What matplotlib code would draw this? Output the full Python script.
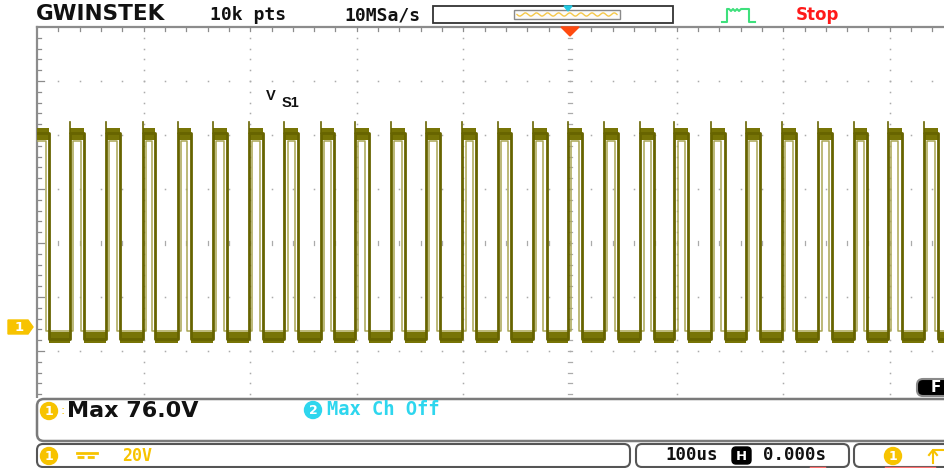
import numpy as np
import matplotlib.pyplot as plt
from matplotlib.patches import FancyBboxPatch, Polygon, Circle, Rectangle

# values (time in us, trigger at 0, 100us/div)
rise_us = [-469, -435, -401, -368, -335, -301, -268, -234, -202, -168, -135, -101, -68,
           -35, -2, 32, 66, 98, 132, 165, 199, 233, 266, 298, 332]
fall_us = [-489, -456, -422, -389, -356, -322, -288, -255, -221, -189, -155, -122, -88,
           -55, -22, 11, 45, 79, 111, 145, 178, 212, 246, 279, 311, 345]
high_v = 72.0          # top plateau
high_band = (69.4, 73.7)
low_v = -4.5
low_band = (-6.0, -2.0)
inner_high_v = 68.8
inner_low_v = -1.6
spike_v = 76.0         # "Max 76.0V"
jitter_us = 3.0
volts_per_div = 20
ground_div = -1.556    # channel 1 marker position, divisions from centre

def to_div(v):
    return np.asarray(v) / volts_per_div + ground_div

W, H = 944, 468
fig = plt.figure(figsize=(W / 100, H / 100), dpi=100)
fig.patch.set_facecolor('white')

# ---- scope screen (data axes) ----
ax = fig.add_axes([37 / W, 1 - 459 / H, (1103 - 37) / W, 432 / H])
ax.set_xlim(-500, 500)
ax.set_ylim(-4, 4)
ax.axis('off')

grid_c = '#ababab'
border_c = '#8c8c8c'
# dotted grid
for gx in [-400, -300, -200, -100, 100, 200, 300, 400]:
    yy = np.arange(-4, 4.01, 0.2)
    ax.plot(np.full_like(yy, gx), yy, ls='none', marker='s', ms=1.1, color=grid_c, mec='none')
for gy in [-3, -2, -1, 1, 2, 3]:
    xx = np.arange(-480, 500, 20)
    ax.plot(xx, np.full_like(xx, gy, dtype=float), ls='none', marker='s', ms=1.1, color=grid_c, mec='none')
# centre axes with minor ticks
for ty in np.arange(-4, 4.01, 0.2):
    ax.plot([-2.3, 2.3], [ty, ty], color=grid_c, lw=0.9)
for tx in np.arange(-480, 500, 20):
    ax.plot([tx, tx], [-0.045, 0.045], color=grid_c, lw=0.9)
# border: top and left with inward ticks
ax.plot([-500, 500], [4, 4], color=border_c, lw=1.6, clip_on=False)
ax.plot([-500, -500], [-4, 4], color=border_c, lw=1.6, clip_on=False)
for tx in np.arange(-480, 500, 20):
    ax.plot([tx, tx], [4, 3.93], color=border_c, lw=0.9)
for ty in np.arange(-3.8, 4, 0.2):
    ln = 6.5 if abs(ty - round(ty)) < 1e-6 else 3.5
    ax.plot([-500, -500 + ln], [ty, ty], color=border_c, lw=0.9)

# waveform
dark = '#676400'
band = '#777406'
light = '#a9a553'
starts = [-500] + rise_us
for s, f in zip(starts, fall_us):
    ax.fill_between([s, f], to_div(high_band[0]), to_div(high_band[1]), color=band, lw=0, zorder=3)
ends = rise_us + [500]
for f, e in zip(fall_us, ends):
    ax.fill_between([f, e], to_div(low_band[0]), to_div(low_band[1]), color=band, lw=0, zorder=3)

xs, ys, xi, yi = [-500], [high_v], [-500], [inner_high_v]
for i, f in enumerate(fall_us):
    xs += [f, f]
    ys += [high_v, low_v]
    xi += [f - jitter_us, f - jitter_us]
    yi += [inner_high_v, inner_low_v]
    if i < len(rise_us):
        r = rise_us[i]
        xs += [r, r]
        ys += [low_v, high_v]
        xi += [r + jitter_us, r + jitter_us]
        yi += [inner_low_v, inner_high_v]
xs.append(500)
ys.append(low_v)
xi.append(500)
yi.append(inner_low_v)
ax.plot(xi, to_div(yi), color=light, lw=1.1, zorder=4)
ax.plot(xs, to_div(ys), color=dark, lw=2.0, zorder=5)
for r in rise_us:
    ax.plot([r, r], to_div([high_v, spike_v]), color=dark, lw=1.2, zorder=5)

# ---- overlay in pixel coordinates for the instrument chrome ----
ov = fig.add_axes([0, 0, 1, 1])
ov.set_xlim(0, W)
ov.set_ylim(H, 0)
ov.axis('off')

mono = 'DejaVu Sans Mono'
yellow = '#f7c300'
cyan = '#2ed6ee'

# header
ov.text(36, 14, 'GWINSTEK', fontsize=15.5, fontweight='heavy', family='DejaVu Sans', va='center', color='#111111')
ov.text(210, 15, '10k pts', fontsize=13, fontweight='bold', family=mono, va='center', color='#111111')
ov.text(344, 15, '10MSa/s', fontsize=13, fontweight='bold', family=mono, va='center', color='#111111')
ov.add_patch(Rectangle((433, 6), 240, 17, fill=False, edgecolor='#333333', lw=1.3))
ov.add_patch(Rectangle((514, 10), 106, 9, facecolor='#fbfbfb', edgecolor='#8a8a8a', lw=1.0))
wx = np.linspace(517, 617, 200)
ov.plot(wx, 14.5 + 1.6 * np.sin((wx - 517) / 100 * 2 * np.pi * 9), color='#f5c84a', lw=1.0)
ov.add_patch(Polygon([(564, 6), (572, 6), (568, 11)], color='#22c8e2'))
ov.plot([722, 727, 727, 729, 731, 733, 735, 737, 739, 741, 743, 749, 749, 755],
        [22, 22, 9, 9, 11, 9, 11, 9, 11, 9, 9, 9, 22, 22], color='#3ee07c', lw=1.5)
ov.text(796, 15.5, 'Stop', fontsize=12, fontweight='bold', family='DejaVu Sans', va='center', color='#ff1a1a')
ov.add_patch(Polygon([(561, 27), (579, 27), (570, 36)], color='#ff4a10', zorder=6))

# waveform label and channel marker
ov.text(266, 96, 'V', fontsize=10.5, fontweight='bold', family='Liberation Sans', va='center', color='#111111')
ov.text(282, 103, 'S1', fontsize=10.5, fontweight='bold', family='Liberation Sans', va='center', color='#111111')
ov.add_patch(Polygon([(8, 320), (28, 320), (33, 327), (28, 334), (8, 334)], color=yellow))
ov.text(19, 327.5, '1', fontsize=9.5, fontweight='bold', color='white', ha='center', va='center')

# F button
ov.add_patch(FancyBboxPatch((917, 379), 40, 17, boxstyle='round,pad=0,rounding_size=6',
                            facecolor='black', edgecolor='#8a8a8a', lw=1.5))
ov.text(931, 388, 'F', fontsize=11, fontweight='bold', color='white', va='center')

# bottom info panel
ov.add_patch(Rectangle((0, 398), W, 70, facecolor='white', edgecolor='none', zorder=2))
ov.add_patch(FancyBboxPatch((37, 399), 940, 42, boxstyle='round,pad=0,rounding_size=7',
                            facecolor='white', edgecolor='#7a7a7a', lw=1.8, zorder=3))
for (x0, x1) in [(37, 630), (636, 849), (854, 1000)]:
    ov.add_patch(FancyBboxPatch((x0, 444), x1 - x0, 23, boxstyle='round,pad=0,rounding_size=6',
                                facecolor='white', edgecolor='#555555', lw=1.5, zorder=3))

def badge(x, y, label, color):
    ov.add_patch(Circle((x, y), 8.5, color=color, zorder=4))
    ov.text(x, y + 0.5, label, fontsize=9, fontweight='bold', color='white', ha='center', va='center', zorder=5)

badge(49, 411, '1', yellow)
ov.text(61, 410, ':', fontsize=9, color=yellow, va='center', zorder=5)
ov.text(67, 411, 'Max 76.0V', fontsize=16, fontweight='bold', family='DejaVu Sans', va='center', color='#111111', zorder=5)
badge(313, 410, '2', cyan)
ov.text(327, 409.5, 'Max Ch Off', fontsize=13.5, fontweight='bold', family=mono, va='center', color=cyan, zorder=5)

badge(49, 456, '1', yellow)
ov.plot([77, 97], [452.5, 452.5], color=yellow, lw=2, zorder=5)
ov.plot([77, 97], [456.5, 456.5], color=yellow, lw=2, ls=(0, (2.5, 1.2)), zorder=5)
ov.text(122, 456, '20V', fontsize=12, fontweight='bold', family=mono, va='center', color=yellow, zorder=5)
ov.text(665, 455.5, '100us', fontsize=12.5, fontweight='bold', family=mono, va='center', color='#111111', zorder=5)
ov.add_patch(FancyBboxPatch((732, 447), 19, 17, boxstyle='round,pad=0,rounding_size=4',
                            facecolor='black', edgecolor='black', lw=1, zorder=4))
ov.text(741.5, 456, 'H', fontsize=9.5, fontweight='bold', color='white', ha='center', va='center', zorder=5)
ov.text(763, 455.5, '0.000s', fontsize=12.5, fontweight='bold', family=mono, va='center', color='#111111', zorder=5)
badge(893, 456, '1', yellow)
ov.plot([933, 933, 944], [463, 450, 450], color=yellow, lw=1.5, zorder=5)
ov.plot([929, 933, 937], [455, 450, 455], color=yellow, lw=1.5, zorder=5)
ov.plot([810, 825], [467, 467], color='#ff7070', lw=1, zorder=5)
ov.plot([885, 935], [467, 467], color='#ff7070', lw=1, zorder=5)

fig.savefig('out.png', dpi=100)
